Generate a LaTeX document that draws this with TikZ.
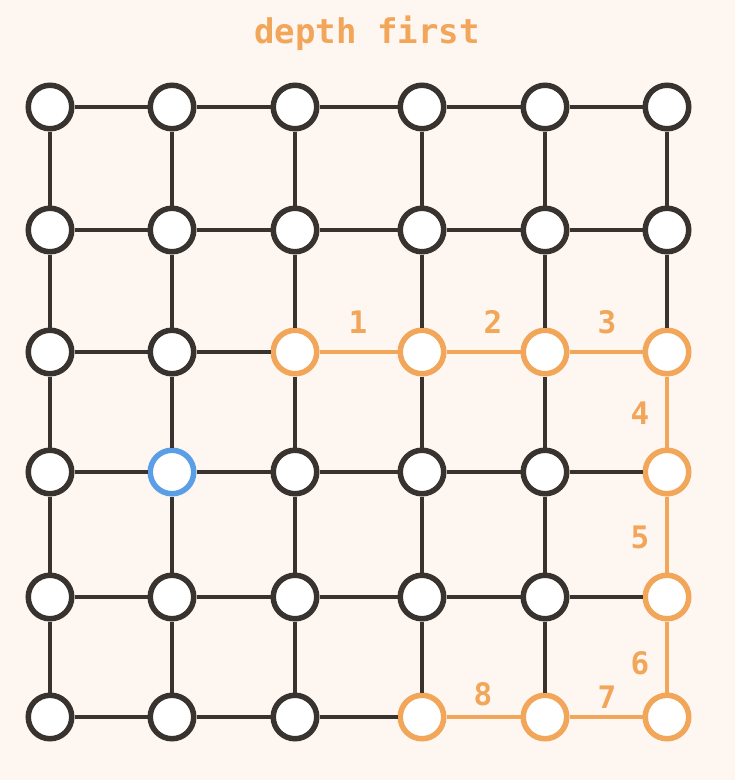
\documentclass[tikz,border=0pt]{standalone}
\usepackage{fontspec}
\setmonofont{DejaVu Sans Mono}
\definecolor{paper}{HTML}{FDF6F1}
\definecolor{ink}{HTML}{38332F}
\definecolor{trail}{HTML}{F2A65A}
\definecolor{seed}{HTML}{5A9EE6}

\tikzset{
    vertex/.style={shape=circle, draw=ink, fill=white, line width=5.5pt, minimum size=43.5pt, inner sep=0pt, outer sep=2.75pt},
    visited/.style={draw=trail},
    start/.style={draw=seed},
    link/.style={draw=ink, line width=3.5pt},
    trail link/.style={draw=trail, line width=3.5pt},
    stepnum/.style={text=trail, font=\ttfamily\bfseries\fontsize{31}{31}\selectfont},
    % which nodes are coloured
    n22/.style={visited}, n32/.style={visited}, n42/.style={visited}, n52/.style={visited},
    n53/.style={visited}, n54/.style={visited}, n55/.style={visited}, n45/.style={visited},
    n35/.style={visited}, n13/.style={start},
}

\begin{document}
\begin{tikzpicture}[x=1pt, y=-1pt]
    \fill[paper] (0,0) rectangle (735,780);
    \node[name=title, text=trail, font=\ttfamily\bfseries\fontsize{34}{34}\selectfont] at (367,33) {depth first};
    % grid of nodes
    \foreach \x [count=\i from 0] in {50,172,295,422,545,667}
        \foreach \y [count=\j from 0] in {107,230,352,472,597,717}
            \node[vertex, n\i\j/.try] (n\i\j) at (\x,\y) {};
    % plain links
    \foreach \i [evaluate=\i as \k using int(\i+1)] in {0,...,4}
        \foreach \j in {0,...,5} {
            \draw[link] (n\i\j) -- (n\k\j);
            \draw[link] (n\j\i) -- (n\j\k);
        }
    % the search path
    \draw[trail link] (n22) -- (n32) -- (n42) -- (n52) -- (n53) -- (n54) -- (n55) -- (n45) -- (n35);
    \node[name=s1, stepnum] at (358,322) {1};
    \node[name=s2, stepnum] at (493,322) {2};
    \node[name=s3, stepnum] at (607,322) {3};
    \node[name=s4, stepnum] at (640,413) {4};
    \node[name=s5, stepnum] at (640,537) {5};
    \node[name=s6, stepnum] at (640,663) {6};
    \node[name=s7, stepnum] at (607,697) {7};
    \node[name=s8, stepnum] at (483,694) {8};
\end{tikzpicture}
\end{document}
